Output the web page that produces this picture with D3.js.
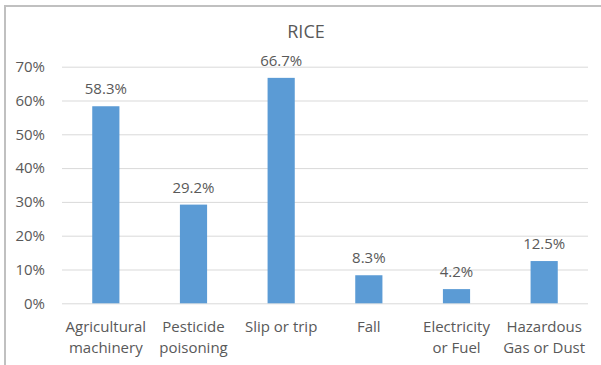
<!DOCTYPE html>
<html>
<head>
<meta charset="utf-8">
<script src="https://cdn.jsdelivr.net/npm/d3@7"></script>
<style>
  html, body { margin: 0; padding: 0; background: #ffffff; }
  svg { display: block; }
  text { font-family: "Open Sans", sans-serif; fill: #595959; }
</style>
</head>
<body>
<svg id="chart" width="601" height="365"></svg>
<script>
const title = "RICE";
const categories = ["Agricultural machinery", "Pesticide poisoning", "Slip or trip", "Fall", "Electricity or Fuel", "Hazardous Gas or Dust"];
const categoryLines = [["Agricultural", "machinery"], ["Pesticide", "poisoning"], ["Slip or trip"], ["Fall"], ["Electricity", "or Fuel"], ["Hazardous", "Gas or Dust"]];
const values = [58.3, 29.2, 66.7, 8.3, 4.2, 12.5];
const yTicks = [0, 10, 20, 30, 40, 50, 60, 70];

const svg = d3.select("#chart");
const plotLeft = 62, plotRight = 588, plotTop = 66.7, plotBottom = 303.3;

// frame (top and left edges visible)
svg.append("path")
  .attr("d", `M5,365 L5,6 L601,6`)
  .attr("fill", "none")
  .attr("stroke", "#c0c0c0")
  .attr("stroke-width", 2);

const x = d3.scaleBand().domain(categories).range([plotLeft, plotRight]).paddingInner(0.69).paddingOuter(0.345);
const y = d3.scaleLinear().domain([0, 70]).range([plotBottom, plotTop]);

// gridlines via axis
const yAxis = d3.axisLeft(y).tickValues(yTicks).tickSize(-(plotRight - plotLeft)).tickFormat(d => d + "%").tickPadding(17);
const gy = svg.append("g").attr("transform", `translate(${plotLeft},0)`).call(yAxis);
gy.select(".domain").remove();
gy.selectAll(".tick line").attr("stroke", "#d9d9d9").attr("stroke-width", 1);
gy.selectAll(".tick text").attr("font-size", 15).style("fill", "#595959").attr("font-family", "Open Sans, sans-serif");

// bars
svg.selectAll("rect.bar").data(values).enter().append("rect")
  .attr("class", "bar")
  .attr("x", (d, i) => x(categories[i]))
  .attr("width", x.bandwidth())
  .attr("y", d => y(d))
  .attr("height", d => y(0) - y(d))
  .attr("fill", "#5b9bd5");

// data labels
svg.selectAll("text.val").data(values).enter().append("text")
  .attr("class", "val")
  .attr("x", (d, i) => x(categories[i]) + x.bandwidth() / 2)
  .attr("y", d => y(d) - 12)
  .attr("text-anchor", "middle")
  .attr("font-size", 15)
  .text(d => d.toFixed(1) + "%");

// category labels
const cat = svg.selectAll("text.cat").data(categories).enter().append("text")
  .attr("class", "cat")
  .attr("text-anchor", "middle")
  .attr("font-size", 15);
cat.each(function(c, i) {
  const t = d3.select(this);
  categoryLines[i].forEach((ln, j) => {
    t.append("tspan")
      .attr("x", x(c) + x.bandwidth() / 2)
      .attr("y", 331.5 + j * 21.7)
      .text(ln);
  });
});

// title
svg.append("text")
  .attr("x", 306)
  .attr("y", 38)
  .attr("text-anchor", "middle")
  .attr("font-size", 18)
  .text(title);
</script>
</body>
</html>
